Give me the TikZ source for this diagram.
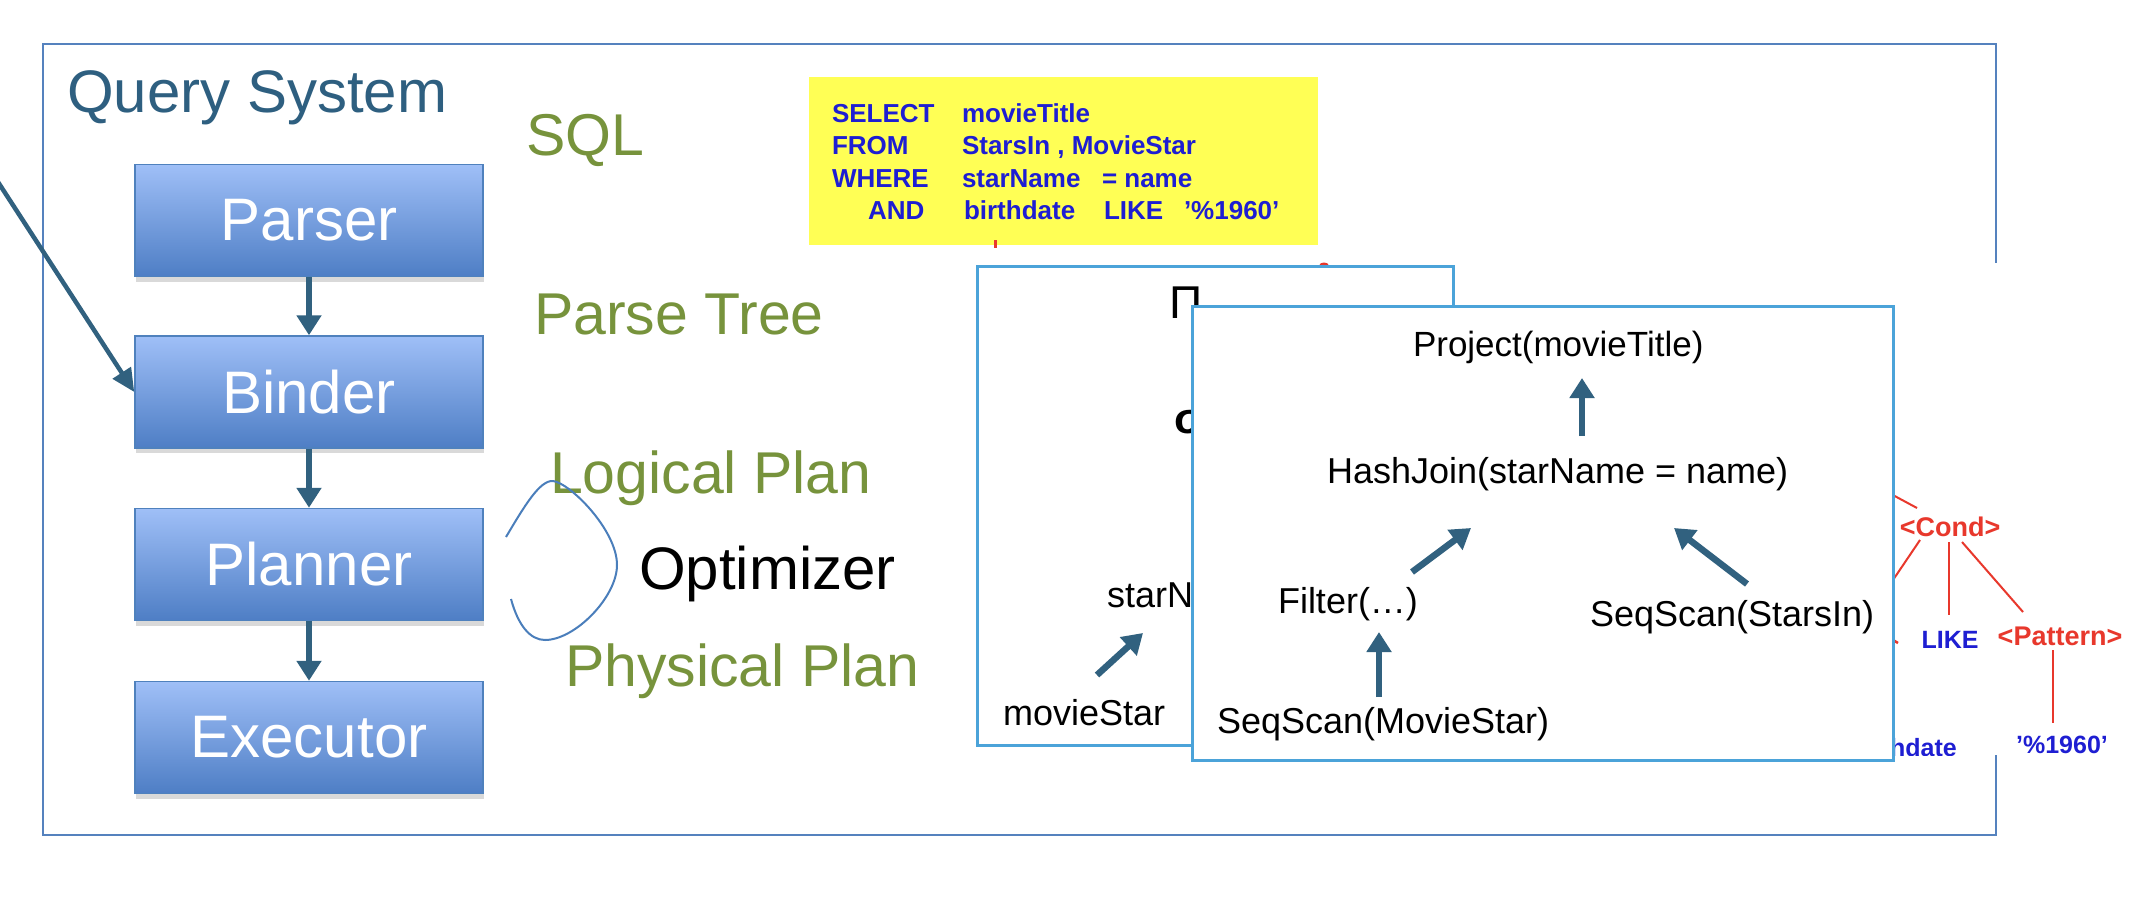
\documentclass[tikz,border=0pt]{standalone}
\usepackage{fontspec}
\setmainfont{Liberation Sans}
\usetikzlibrary{arrows.meta,shadows}
\definecolor{qsblue}{HTML}{2E5F80}
\definecolor{olive}{HTML}{77933C}
\definecolor{boxborder}{HTML}{4F81BD}
\definecolor{boxtop}{HTML}{9FBFF7}
\definecolor{boxbot}{HTML}{4E7EC5}
\definecolor{outerc}{HTML}{5582BE}
\definecolor{planc}{HTML}{4BA3D9}
\definecolor{arrowc}{HTML}{31617F}
\definecolor{loopc}{HTML}{4A7EBB}
\definecolor{treered}{HTML}{E8382C}
\definecolor{sqlblue}{HTML}{1E1ED2}
\definecolor{sqlyellow}{HTML}{FFFF55}
\newcommand{\fsz}[1]{\fontsize{#1}{#1}\selectfont}
\begin{document}
\begin{tikzpicture}[x=1pt,y=-1pt,
  lbl/.style={inner sep=0pt,outer sep=0pt,anchor=base west},
  stage/.style={draw=boxborder,line width=1.5pt,top color=boxtop,bottom color=boxbot,
    minimum width=348pt,minimum height=112pt,inner sep=0pt,text=white,font=\fsz{60},
    drop shadow={opacity=0.3,shadow xshift=1pt,shadow yshift=-5pt}},
  flow/.style={draw=arrowc,line width=6.5pt,-{Triangle[width=24pt,length=20pt]}},
  inflow/.style={draw=arrowc,line width=4.5pt,-{Triangle[width=21pt,length=23pt]}},
  planbox/.style={draw=planc,line width=3pt,fill=white,inner sep=0pt},
  stepname/.style={lbl,font=\fsz{59},text=olive},
  optext/.style={lbl,font=\fsz{36}},
  sqlkw/.style={lbl,font=\fsz{26}\bfseries,text=sqlblue},
  redtxt/.style={inner sep=0pt,anchor=base,font=\fsz{27}\bfseries,text=treered},
  bluetxt/.style={inner sep=0pt,anchor=base,font=\fsz{25}\bfseries,text=sqlblue},
  redline/.style={draw=treered,line width=2pt}
]
\useasboundingbox (0,0) rectangle (2146,900);

% outer system box
\draw[outerc,line width=2.5pt] (43,44) rectangle (1996,835);
\node[lbl,font=\fsz{60},text=qsblue] (qs) at (67,112) {Query System};

% pipeline
\node[stage] (parser) at (309,220.5) {Parser};
\node[stage] (binder) at (309,392) {Binder};
\node[stage] (planner) at (309,564.5) {Planner};
\node[stage] (executor) at (309,737.5) {Executor};
\draw[flow] (parser.south) -- (binder.north);
\draw[flow] (binder.south) -- (planner.north);
\draw[flow] (planner.south) -- (executor.north);
\coordinate (ext) at (-2,182);
\draw[inflow] (ext) -- (binder.west);

% stage labels
\node[stepname] (sql) at (526,155) {SQL};
\node[stepname] (ptree) at (534,334) {Parse Tree};
\node[stepname] (lplan) at (550,493) {Logical Plan};
\node[lbl,font=\fsz{60}] (opt) at (639,589) {Optimizer};
\node[stepname] (pplan) at (565,686) {Physical Plan};
\draw[loopc,line width=2pt] (506,537) .. controls (525,505) and (540,480) .. (553,481)
  .. controls (570,483) and (617,530) .. (617,565)
  .. controls (617,597) and (575,640) .. (545,640)
  .. controls (530,640) and (518,625) .. (511,599);

% SQL box
\fill[sqlyellow] (809,77) rectangle (1318,245);
\node[sqlkw] (k1) at (832,122) {SELECT};
\node[sqlkw] (k2) at (832,154) {FROM};
\node[sqlkw] (k3) at (832,187) {WHERE};
\node[sqlkw] (k4) at (868,219) {AND};
\node[sqlkw] (v1) at (962,122) {movieTitle};
\node[sqlkw] (v2) at (962,154) {StarsIn , MovieStar};
\node[sqlkw] (v3) at (962,187) {starName};
\node[sqlkw] (v3b) at (1102,187) {= name};
\node[sqlkw] (v4) at (964,219) {birthdate};
\node[sqlkw] (v4b) at (1104,219) {LIKE};
\node[sqlkw] (v4c) at (1184,219) {'\%1960'};
\draw[treered,line width=3pt] (995,240) -- (995,248);

% parse tree image (partly hidden)
\fill[white] (1455,263) rectangle (2146,755);
\fill[treered] (1324,265) ellipse (4.5pt and 2.5pt);
\begin{scope}
\clip (1455,263) rectangle (2146,755);
\node[redtxt] (cond) at (1950,536) {<Cond>};
\node[bluetxt] (like) at (1950,648) {LIKE};
\node[redtxt] (pattern) at (2060,645) {<Pattern>};
\node[bluetxt] (pct) at (2062,753) {'\%1960'};
\node[bluetxt,anchor=base east] (bdate) at (1957,756) {birthdate};
\draw[redline] (1850,472) -- (1917,508);
\draw[redline] (1920,540) -- (1870,614);
\draw[redline] (1949,542) -- (1949,615);
\draw[redline] (1962,542) -- (2023,612);
\draw[redline] (2053,650) -- (2053,723);
\draw[treered,line width=2.5pt] (1893,640) -- (1898,643);
\end{scope}

% logical plan (back)
\node[planbox,minimum width=476pt,minimum height=479pt] (logical) at (1215,505.5) {};
\node[inner sep=0pt,anchor=base,font=\fsz{46}] (pi) at (1186,318) {Π};
\node[lbl,font=\fsz{44}\bfseries] (sigma) at (1174,433) {σ};
\node[optext] (lstar) at (1107,607) {starName};
\node[optext] (lmovie) at (1003,725) {movieStar};
\coordinate (la1) at (1097,675);
\coordinate (la2) at (1143,633);
\draw[flow] (la1) -- (la2);

% physical plan (front)
\node[planbox,minimum width=701pt,minimum height=454pt] (physical) at (1542.5,533) {};
\node[optext,font=\fsz{35}] (proj) at (1413,356) {Project(movieTitle)};
\node[optext] (hj) at (1327,483) {HashJoin(starName = name)};
\node[optext] (filt) at (1278,613) {Filter(…)};
\node[optext] (ssi) at (1590,626) {SeqScan(StarsIn)};
\node[optext] (ssm) at (1217,733) {SeqScan(MovieStar)};
\coordinate (pa1) at (1582,436);
\coordinate (pa2) at (1582,378);
\coordinate (pb1) at (1412,572);
\coordinate (pb2) at (1471,528);
\coordinate (pc1) at (1747,584);
\coordinate (pc2) at (1674,528);
\coordinate (pd1) at (1379,697);
\coordinate (pd2) at (1379,632);
\draw[flow] (pa1) -- (pa2);
\draw[flow] (pb1) -- (pb2);
\draw[flow] (pc1) -- (pc2);
\draw[flow] (pd1) -- (pd2);
\end{tikzpicture}
\end{document}
